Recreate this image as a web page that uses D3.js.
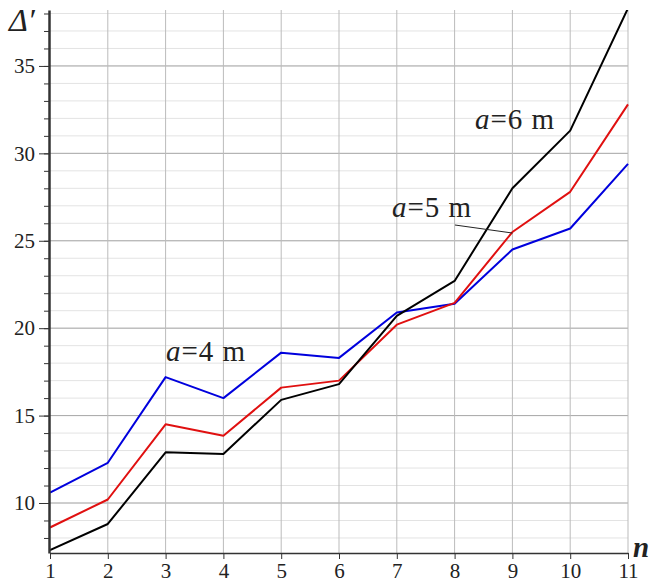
<!DOCTYPE html>
<html>
<head>
<meta charset="utf-8">
<script src="https://d3js.org/d3.v7.min.js"></script>
<style>
  body { margin: 0; background: #fff; }
  text { font-family: "Liberation Serif", "Times New Roman", serif; fill: #222; }
</style>
</head>
<body>
<div id="chart"></div>
<script>
// data
const nValues = [1, 2, 3, 4, 5, 6, 7, 8, 9, 10, 11];
const a4 = [10.6, 12.3, 17.2, 16.0, 18.6, 18.3, 20.9, 21.4, 24.5, 25.7, 29.4];
const a5 = [8.6, 10.2, 14.5, 13.85, 16.6, 17.0, 20.2, 21.45, 25.5, 27.8, 32.8];
const a6 = [7.3, 8.8, 12.9, 12.8, 15.9, 16.8, 20.7, 22.7, 28.0, 31.3, 38.3];
const yTicks = [10, 15, 20, 25, 30, 35];
const yMinor = d3.range(8, 39);

const width = 652, height = 587;
const plotLeft = 50, plotRight = 628, plotTop = 10, plotBottom = 553;

const svg = d3.select("#chart")
  .append("svg")
  .attr("width", width)
  .attr("height", height);

const x = d3.scaleLinear().domain([1, 11]).range([plotLeft, plotRight]);
const y = d3.scaleLinear().domain([7.14, 38.2]).range([plotBottom, plotTop]);

// clip for the plot area
svg.append("clipPath").attr("id", "plot")
  .append("rect")
  .attr("x", plotLeft).attr("y", plotTop)
  .attr("width", plotRight - plotLeft + 2).attr("height", plotBottom - plotTop);

// grid: minor horizontal lines
svg.append("g")
  .selectAll("line")
  .data(yMinor.filter(v => y(v) >= plotTop && y(v) <= plotBottom))
  .join("line")
  .attr("x1", plotLeft).attr("x2", plotRight)
  .attr("y1", d => y(d)).attr("y2", d => y(d))
  .attr("stroke", "#e3e3e3")
  .attr("stroke-width", 1);

// grid: major horizontal lines
svg.append("g")
  .selectAll("line")
  .data(yTicks)
  .join("line")
  .attr("x1", plotLeft).attr("x2", plotRight)
  .attr("y1", d => y(d)).attr("y2", d => y(d))
  .attr("stroke", "#aaa")
  .attr("stroke-width", 1);

// grid: vertical lines
svg.append("g")
  .selectAll("line")
  .data(nValues.slice(1))
  .join("line")
  .attr("x1", d => x(d)).attr("x2", d => x(d))
  .attr("y1", plotTop).attr("y2", plotBottom)
  .attr("stroke", "#bbb")
  .attr("stroke-width", 1);

// series
const line = d3.line()
  .x((d, i) => x(nValues[i]))
  .y(d => y(d));

const series = [
  { values: a4, color: "#0000dd" },
  { values: a5, color: "#e01010" },
  { values: a6, color: "#000" }
];

svg.append("g")
  .attr("clip-path", "url(#plot)")
  .selectAll("path")
  .data(series)
  .join("path")
  .attr("d", d => line(d.values))
  .attr("fill", "none")
  .attr("stroke", d => d.color)
  .attr("stroke-width", 2)
  .attr("stroke-linejoin", "round");

// x axis
const xAxis = svg.append("g")
  .attr("transform", `translate(0,${plotBottom})`)
  .attr("font-family", null)
  .attr("font-size", null)
  .call(d3.axisBottom(x).tickValues(nValues).tickFormat(d3.format("d")).tickSize(6).tickSizeOuter(0))
  .attr("font-family", "Liberation Serif")
  .attr("font-size", 21);
xAxis.select(".domain").attr("stroke", "#333").attr("stroke-width", 1.5);
xAxis.selectAll(".tick line").attr("stroke", "#333");
xAxis.selectAll("text")
  .attr("y", 10)
  .attr("fill", "#222");

// y axis minor ticks
svg.append("g")
  .attr("transform", `translate(${plotLeft - 1},0)`)
  .call(d3.axisLeft(y).tickValues(yMinor.filter(v => y(v) >= plotTop)).tickSize(5).tickFormat(""))
  .call(g => g.select(".domain").remove())
  .selectAll(".tick line").attr("stroke", "#333");

// y axis major ticks
const yAxis = svg.append("g")
  .attr("transform", `translate(${plotLeft - 1},0)`)
  .call(d3.axisLeft(y).tickValues(yTicks).tickSize(10).tickSizeOuter(0))
  .attr("font-family", "Liberation Serif")
  .attr("font-size", 21);
yAxis.select(".domain").attr("stroke", "#333").attr("stroke-width", 2.5);
yAxis.selectAll(".tick line").attr("stroke", "#333");
yAxis.selectAll("text")
  .attr("x", -14)
  .attr("fill", "#222");

// axis titles
svg.append("text")
  .attr("x", 9).attr("y", 31)
  .style("font-size", "32px")
  .style("font-style", "italic")
  .text("\u0394\u2032");

svg.append("text")
  .attr("x", 633).attr("y", 557)
  .style("font-size", "29px")
  .style("font-style", "italic")
  .style("font-weight", "bold")
  .text("n");

// curve labels
function label(xp, yp, num) {
  const t = svg.append("text")
    .attr("x", xp).attr("y", yp)
    .style("font-size", "29px")
    .style("letter-spacing", "1px");
  t.append("tspan").style("font-style", "italic").text("a");
  t.append("tspan").text(`=${num} m`);
}
label(166, 361, 4);
label(392, 217, 5);
label(475, 129, 6);

// leader for a=5 m
svg.append("line")
  .attr("x1", 455).attr("y1", 225)
  .attr("x2", x(9)).attr("y2", y(a5[8]) + 1)
  .attr("stroke", "#222")
  .attr("stroke-width", 1);
</script>
</body>
</html>
